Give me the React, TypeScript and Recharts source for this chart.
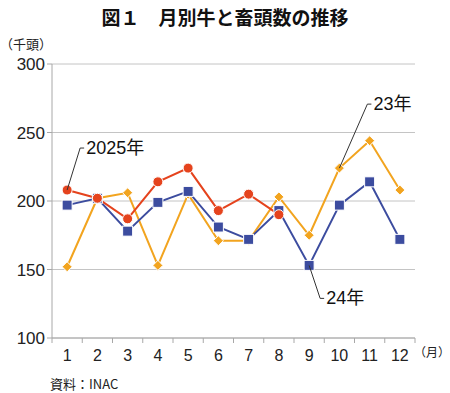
import React from "react";
import { LineChart, Line, XAxis, YAxis, CartesianGrid } from "recharts";

const months = [1, 2, 3, 4, 5, 6, 7, 8, 9, 10, 11, 12];
const y2025 = [208, 202, 187, 214, 224, 193, 205, 190, null, null, null, null];
const y2024 = [197, 202, 178, 199, 207, 181, 172, 193, 153, 197, 214, 172];
const y2023 = [152, 202, 206, 153, 205, 171, 171, 203, 175, 224, 244, 208];
const yTicks = [100, 150, 200, 250, 300];
const xTicks = [0.5, 1.5, 2.5, 3.5, 4.5, 5.5, 6.5, 7.5, 8.5, 9.5, 10.5, 11.5, 12.5];

const data = months.map((m, i) => ({
  month: m,
  y2025: y2025[i],
  y2024: y2024[i],
  y2023: y2023[i],
}));

const RED = "#e5431d";
const BLUE = "#3c4c9f";
const ORANGE = "#f2a41f";
const FONT = "'Liberation Sans', 'Noto Sans CJK JP', sans-serif";
const JP = "'Noto Sans CJK JP', sans-serif";
const HALF_BAND = 363 / 24;

const MonthTick = ({ x, y, payload }: any) => {
  if (payload.value > 12) return null;
  return (
    <text x={x + HALF_BAND} y={y + 16} textAnchor="middle" fontSize={16} fill="#222" fontFamily={FONT}>
      {payload.value + 0.5}
    </text>
  );
};

const circleDot = ({ cx, cy, index }: any) =>
  cx == null || cy == null ? null : (
    <circle key={index} cx={cx} cy={cy} r={5} fill={RED} stroke="#fff" strokeWidth={1} />
  );

const squareDot = ({ cx, cy, index }: any) =>
  cx == null || cy == null ? null : (
    <rect key={index} x={cx - 5} y={cy - 5} width={10} height={10} fill={BLUE} stroke="#fff" strokeWidth={1} />
  );

const diamondDot = ({ cx, cy, index }: any) =>
  cx == null || cy == null ? null : (
    <path
      key={index}
      d={`M${cx},${cy - 5}L${cx + 5},${cy}L${cx},${cy + 5}L${cx - 5},${cy}Z`}
      fill={ORANGE}
      stroke="#fff"
      strokeWidth={1}
    />
  );

// leader line + label attached to one point of a series
const leader = (idx: number, text: string, dx: number, dy: number) => (props: any) => {
  const { x, y, index } = props;
  if (index !== idx || x == null || y == null) return null;
  const ex = x + dx;
  const ey = y + dy;
  return (
    <g key={"lab" + index}>
      <polyline points={`${x},${y} ${ex},${ey} ${ex + 4},${ey}`} fill="none" stroke="#333" strokeWidth={1} />
      <text x={ex + 6} y={ey + 6} fontSize={18} fill="#111" fontFamily={FONT}>
        {text}
      </text>
    </g>
  );
};

export default function App() {
  return (
    <div style={{ position: "absolute", left: 0, top: 0, width: 450, height: 393, background: "#fff" }}>
      <div
        style={{
          position: "absolute",
          top: 3,
          width: 450,
          textAlign: "center",
          fontFamily: JP,
          fontWeight: 700,
          fontSize: 19,
          color: "#111",
        }}
      >
        図１　月別牛と畜頭数の推移
      </div>
      <div style={{ position: "absolute", left: 0, top: 34, fontFamily: JP, fontSize: 13, color: "#222" }}>
        （千頭）
      </div>
      <div style={{ position: "absolute", left: 414, top: 343, fontFamily: JP, fontSize: 12, color: "#222" }}>
        （月）
      </div>
      <div style={{ position: "absolute", left: 50, top: 374, fontFamily: JP, fontSize: 13, color: "#222" }}>
        資料：INAC
      </div>
      <LineChart width={450} height={393} data={data} margin={{ top: 64, right: 35, bottom: 0, left: 0 }}>
        <CartesianGrid vertical={false} stroke="#c4c4c4" />
        <XAxis
          dataKey="month"
          type="number"
          domain={[0.5, 12.5]}
          ticks={xTicks}
          interval={0}
          height={55}
          stroke="#a8a8a8"
          tickSize={5}
          tick={<MonthTick />}
        />
        <YAxis
          domain={[100, 300]}
          ticks={yTicks}
          width={52}
          stroke="#a8a8a8"
          tickSize={5}
          tick={{ fontSize: 17, fill: "#222", fontFamily: FONT }}
        />
        <Line
          dataKey="y2023"
          stroke={ORANGE}
          strokeWidth={2}
          dot={diamondDot}
          isAnimationActive={false}
          label={leader(9, "23年", 28, -64)}
        />
        <Line
          dataKey="y2024"
          stroke={BLUE}
          strokeWidth={2}
          dot={squareDot}
          isAnimationActive={false}
          label={leader(8, "24年", 11, 33)}
        />
        <Line
          dataKey="y2025"
          stroke={RED}
          strokeWidth={2}
          dot={circleDot}
          isAnimationActive={false}
          label={leader(0, "2025年", 13, -42)}
        />
      </LineChart>
    </div>
  );
}
